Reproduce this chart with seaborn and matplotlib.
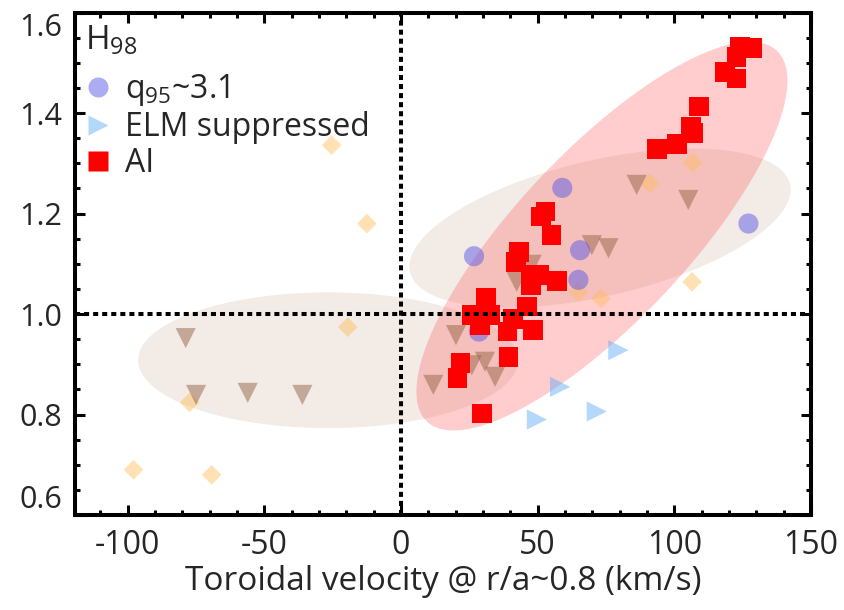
import numpy as np
import pandas as pd
import matplotlib
matplotlib.use("Agg")
import matplotlib.pyplot as plt
import seaborn as sns
from matplotlib.lines import Line2D

# ---- data: toroidal velocity (km/s) vs H98 ----
ai_v = [124.0, 128.3, 122.8, 118.6, 122.8, 109.1, 106.0, 107.0, 100.9, 93.6,
        51.1, 52.9, 55.1, 43.2, 42.0, 47.6, 50.5, 57.1, 47.6, 31.1,
        25.9, 32.6, 28.9, 46.0, 40.9, 38.9, 48.2, 39.3, 21.8, 20.6, 29.7]
ai_h = [1.532, 1.529, 1.512, 1.482, 1.469, 1.413, 1.373, 1.360, 1.338, 1.328,
        1.194, 1.204, 1.157, 1.124, 1.104, 1.078, 1.078, 1.066, 1.058, 1.032,
        0.998, 0.998, 0.978, 1.015, 0.990, 0.965, 0.968, 0.915, 0.902, 0.872, 0.802]

q95_v = [26.7, 59.0, 65.5, 64.9, 28.5, 127.1]
q95_h = [1.115, 1.251, 1.127, 1.068, 0.965, 1.180]

elm_v = [79.5, 58.2, 71.6, 49.7]
elm_h = [0.928, 0.855, 0.806, 0.790]

hmode_v = [-78.8, -75.0, -56.1, -36.1, 20.1, 11.8, 30.7, 34.4, 25.9,
           42.3, 47.8, 69.8, 75.9, 86.2, 105.1]
hmode_h = [0.952, 0.839, 0.843, 0.839, 0.958, 0.859, 0.905, 0.875, 0.898,
           1.064, 1.098, 1.137, 1.131, 1.257, 1.227]

other_v = [-25.4, -12.5, -19.5, -77.4, -97.9, -69.3, 64.9, 73.2, 91.1, 106.7, 106.5]
other_h = [1.336, 1.180, 0.974, 0.824, 0.690, 0.680, 1.044, 1.031, 1.260, 1.301, 1.064]

x_ticks = [-100, -50, 0, 50, 100, 150]
y_ticks = [0.6, 0.8, 1.0, 1.2, 1.4, 1.6]
x_label = "Toroidal velocity @ r/a~0.8 (km/s)"
legend_title = r"$\mathregular{H_{98}}$"
legend_labels = [r"$\mathregular{q_{95}}$~3.1", "ELM suppressed", "AI"]

# shaded regions: centre plus two conjugate half-axis vectors (data units)
regions = [
    dict(c=(-26.7, 0.908), a=(69.5, 0.0), b=(0.0, 0.135), color="#f2ebe6", alpha=1.0, z=1),
    dict(c=(72.8, 1.171), a=(69.5, 0.0873), b=(-5.60, 0.1318), color="#f2ebe6", alpha=1.0, z=1),
    dict(c=(73.5, 1.155), a=(64.0, 0.369), b=(-22.6, 0.116), color="#ff5a5a", alpha=0.30, z=2),
]

sns.set_theme(style="ticks")
plt.rcParams["font.family"] = ["Open Sans", "DejaVu Sans"]
plt.rcParams["mathtext.default"] = "regular"

fig = plt.figure(figsize=(8.44, 6.10), dpi=100)
ax = fig.add_axes([75 / 844, 1 - 515 / 610, (811 - 75) / 844, (515 - 12.5) / 610])

t = np.linspace(0, 2 * np.pi, 300)
for r in regions:
    cx, cy = r["c"]
    ex = cx + np.cos(t) * r["a"][0] + np.sin(t) * r["b"][0]
    ey = cy + np.cos(t) * r["a"][1] + np.sin(t) * r["b"][1]
    ax.fill(ex, ey, color=r["color"], alpha=r["alpha"], lw=0, zorder=r["z"])

df_other = pd.DataFrame({"v": other_v, "h": other_h})
df_hmode = pd.DataFrame({"v": hmode_v, "h": hmode_h})
df_q95 = pd.DataFrame({"v": q95_v, "h": q95_h})
df_elm = pd.DataFrame({"v": elm_v, "h": elm_h})
df_ai = pd.DataFrame({"v": ai_v, "h": ai_h})

kw = dict(x="v", y="h", ax=ax, linewidth=0, edgecolor="none", legend=False)
sns.scatterplot(data=df_other, marker="D", s=100, color="#ffbe5a", alpha=0.45, zorder=3, **kw)
sns.scatterplot(data=df_hmode, marker="v", s=210, color="#966449", alpha=0.5, zorder=3, **kw)
sns.scatterplot(data=df_q95, marker="o", s=210, color="#5a5ae6", alpha=0.5, zorder=3, **kw)
sns.scatterplot(data=df_elm, marker=">", s=210, color="#5aaaf5", alpha=0.45, zorder=3, **kw)
sns.scatterplot(data=df_ai, marker="s", s=200, color="#ff0000", alpha=1.0, zorder=4, **kw)

dot = dict(color="black", lw=2.9, linestyle=(0, (1.25, 1.0)), dash_capstyle="butt", zorder=5)
ax.axvline(0, **dot)
ax.axhline(1.0, **dot)

ax.set_xlim(-119.3, 150)
ax.set_ylim(0.6, 1.6)
ax.set_xticks(x_ticks)
ax.set_yticks(y_ticks)
ax.set_xticklabels([str(v) for v in x_ticks])
ax.set_yticklabels([f"{v:.1f}" for v in y_ticks])
ax.set_xticks(np.arange(-110, 150, 10), minor=True)
ax.set_yticks(np.arange(0.6, 1.6001, 0.05), minor=True)
ax.tick_params(which="both", direction="in", top=True, right=True, color="black", width=2.2)
ax.tick_params(which="major", length=7.5)
ax.tick_params(which="minor", length=3.5)
ax.tick_params(axis="x", labelsize=23, pad=10)
ax.tick_params(axis="y", labelsize=22, pad=9)
# end labels sit inside the frame height
ylabels = ax.get_yticklabels()
ylabels[0].set_verticalalignment("bottom")
ylabels[-1].set_verticalalignment("top")
for s in ax.spines.values():
    s.set_linewidth(2.9)
    s.set_color("black")
ax.set_xlabel(x_label, fontsize=24, labelpad=2)
ax.set_ylabel("")

handles = [
    Line2D([], [], ls="none", marker="o", ms=14.4, mec="none", mfc="#5a5ae6", alpha=0.5),
    Line2D([], [], ls="none", marker=">", ms=14.4, mec="none", mfc="#5aaaf5", alpha=0.45),
    Line2D([], [], ls="none", marker="s", ms=14.0, mec="none", mfc="#ff0000"),
]
leg = ax.legend(handles, legend_labels, loc="upper left", bbox_to_anchor=(10 / 736, 1 - 12 / 502.5),
                frameon=False, title=legend_title, alignment="left", fontsize=23, title_fontsize=24,
                borderpad=0, borderaxespad=0, handlelength=0.8, handletextpad=0.45,
                labelspacing=0.1)
leg.set_zorder(6)
leg._legend_box.sep = 10

fig.savefig("out.png", dpi=100)
